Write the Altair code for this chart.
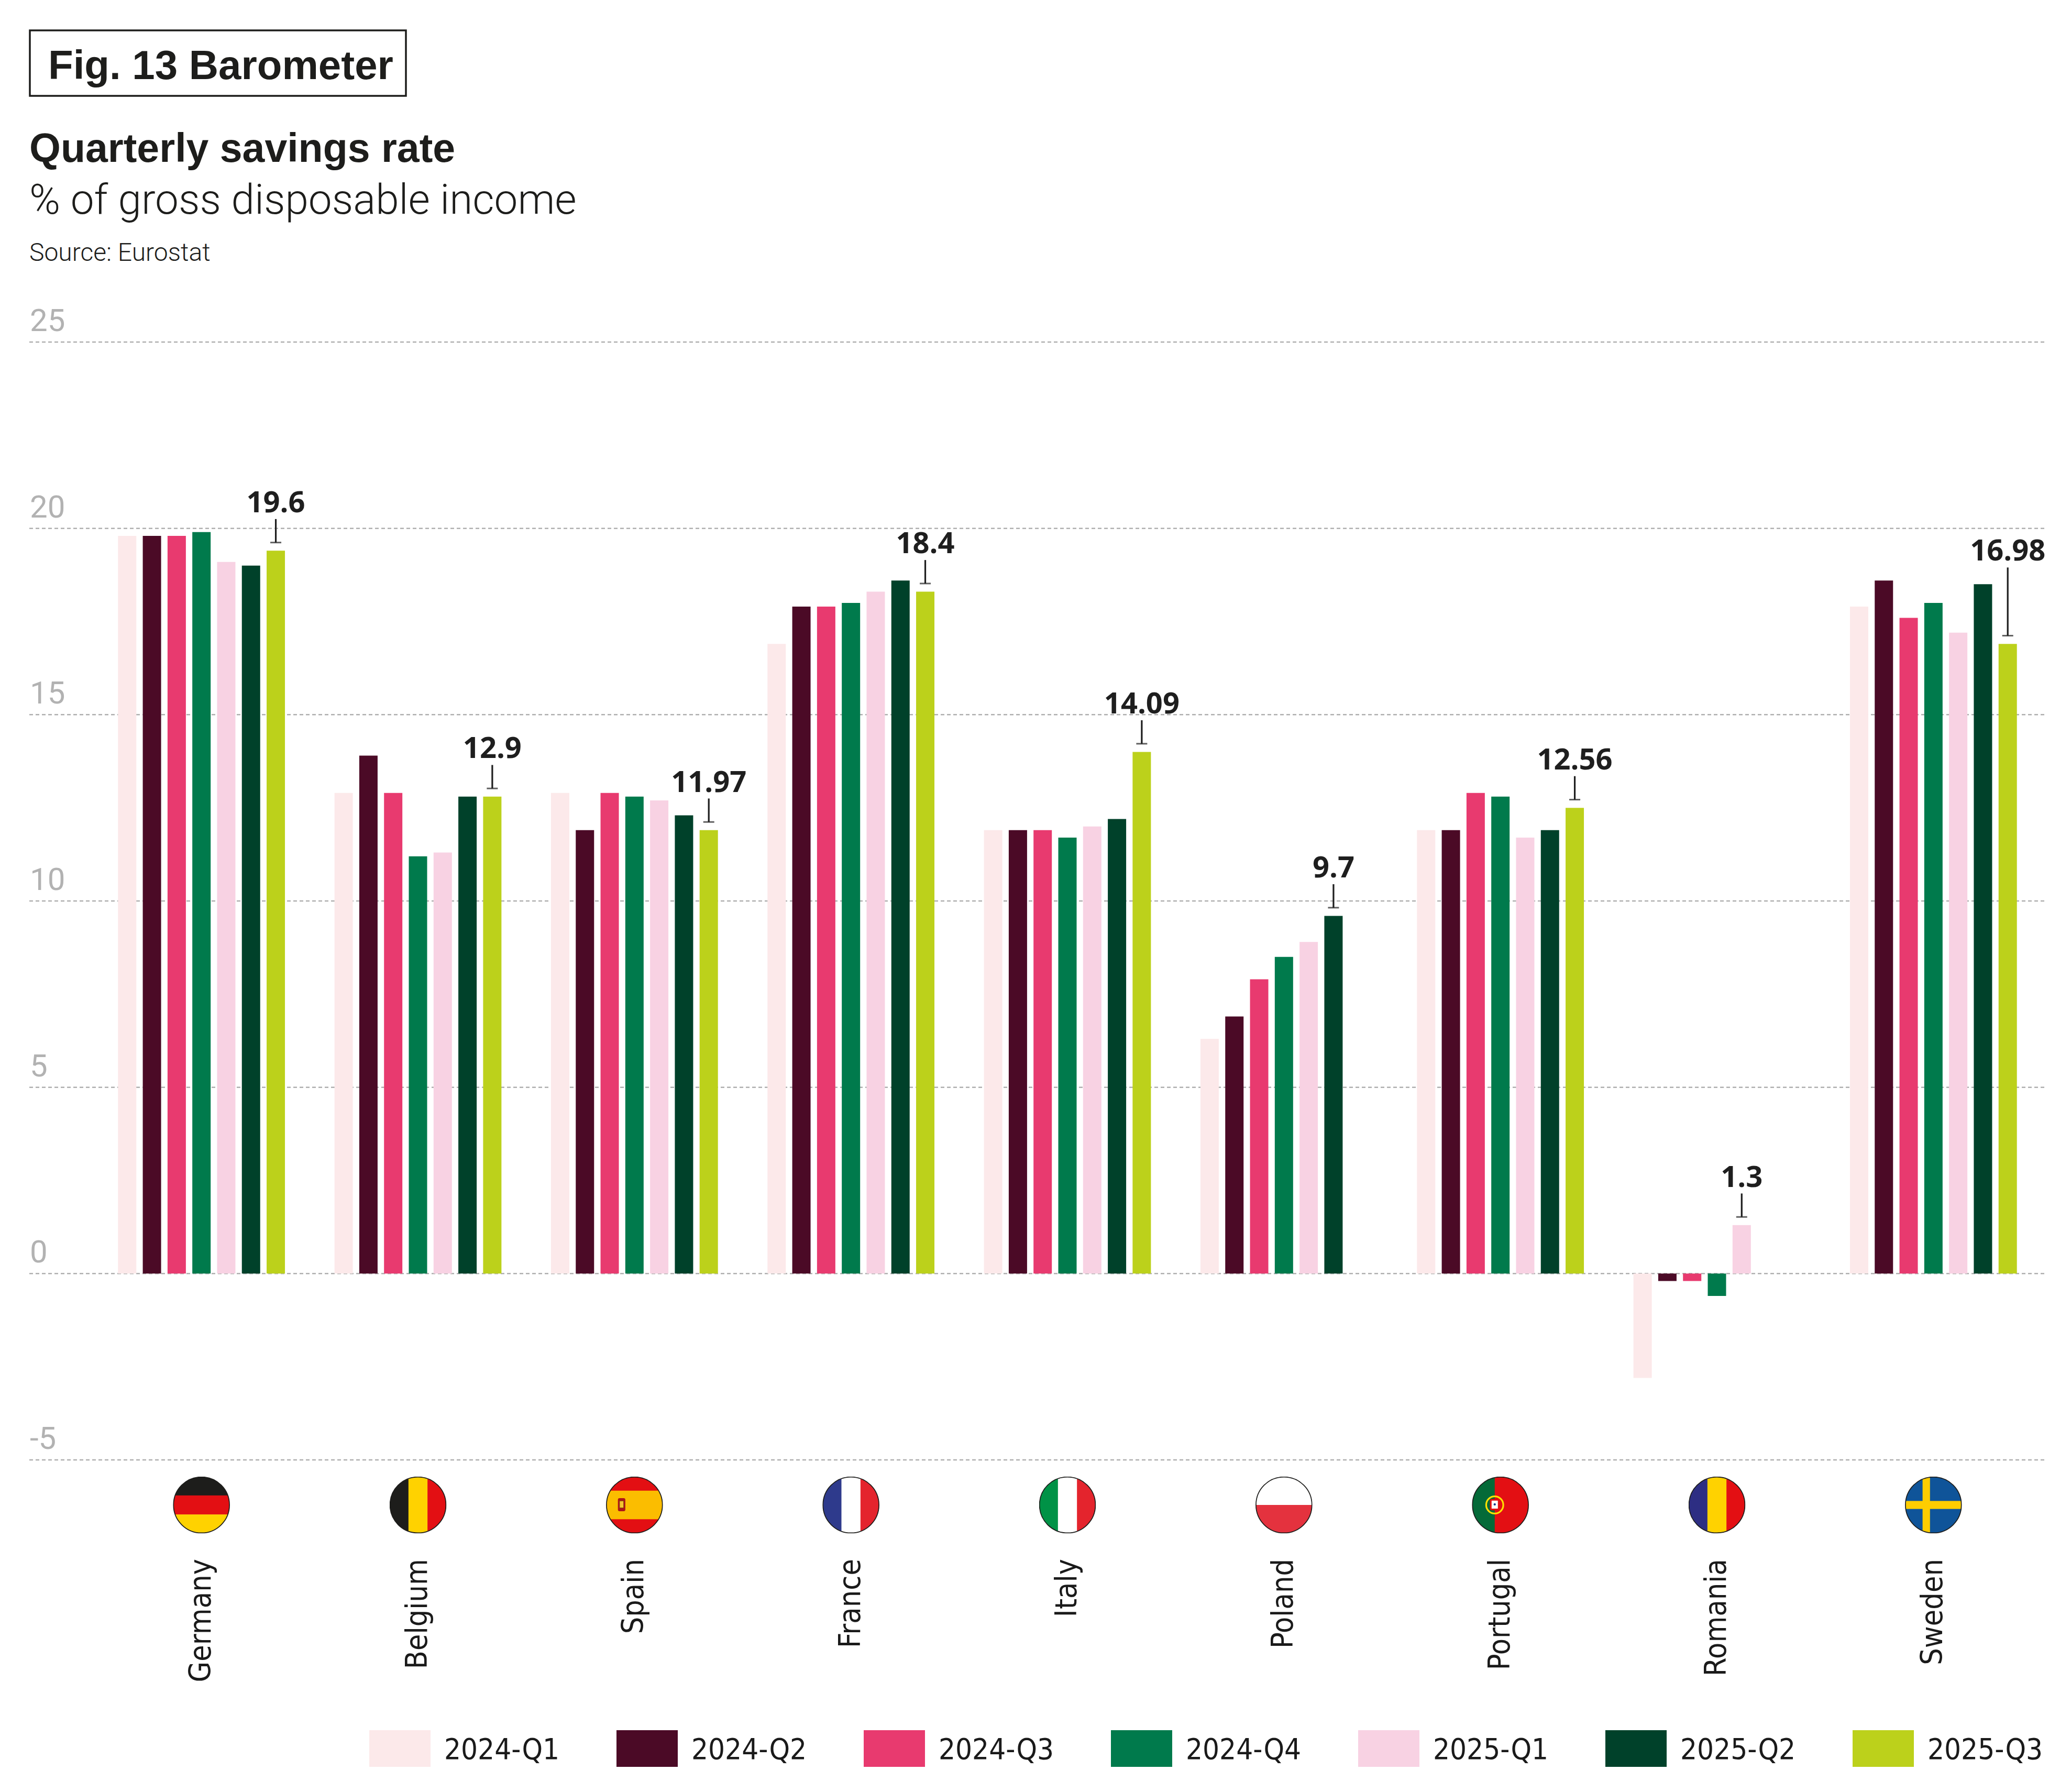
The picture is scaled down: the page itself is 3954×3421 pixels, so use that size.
import base64
import altair as alt
import pandas as pd

# ---------------- data ----------------
countries = ["Germany", "Belgium", "Spain", "France", "Italy", "Poland", "Portugal", "Romania", "Sweden"]
quarters = ["2024-Q1", "2024-Q2", "2024-Q3", "2024-Q4", "2025-Q1", "2025-Q2", "2025-Q3"]

v_2024_q1 = [19.8, 12.9, 12.9, 16.9, 11.9, 6.3, 11.9, -2.8, 17.9]
v_2024_q2 = [19.8, 13.9, 11.9, 17.9, 11.9, 6.9, 11.9, -0.2, 18.6]
v_2024_q3 = [19.8, 12.9, 12.9, 17.9, 11.9, 7.9, 12.9, -0.2, 17.6]
v_2024_q4 = [19.9, 11.2, 12.8, 18.0, 11.7, 8.5, 12.8, -0.6, 18.0]
v_2025_q1 = [19.1, 11.3, 12.7, 18.3, 12.0, 8.9, 11.7, 1.3, 17.2]
v_2025_q2 = [19.0, 12.8, 12.3, 18.6, 12.2, 9.6, 11.9, None, 18.5]
v_2025_q3 = [19.4, 12.8, 11.9, 18.3, 14.0, None, 12.5, None, 16.9]
series = [v_2024_q1, v_2024_q2, v_2024_q3, v_2024_q4, v_2025_q1, v_2025_q2, v_2025_q3]

callout_labels = ["19.6", "12.9", "11.97", "18.4", "14.09", "9.7", "12.56", "1.3", "16.98"]

y_ticks = [25, 20, 15, 10, 5, 0, -5]
y_tick_labels = ["25", "20", "15", "10", "5", "0", "-5"]

colors = ["#fce9ea", "#4b0a26", "#e83a6f", "#007a4c", "#f8d2e3", "#00412a", "#bcd11b"]

# ---------------- tables ----------------
rows = []
for q, vals in zip(quarters, series):
    for c, v in zip(countries, vals):
        if v is not None:
            rows.append({"country": c, "quarter": q, "value": v})
df = pd.DataFrame(rows)

ann_rows = []
for i, c in enumerate(countries):
    avail = [(q, series[j][i]) for j, q in enumerate(quarters) if series[j][i] is not None]
    q_last, v_last = avail[-1]
    v_prev = avail[-2][1]
    top = max(v_last + 0.85, v_prev + 0.45)
    ann_rows.append({"country": c, "quarter": q_last, "low": v_last + 0.22,
                     "high": top, "label_y": top + 0.42, "label": callout_labels[i]})
ann = pd.DataFrame(ann_rows)

grid_df = pd.DataFrame({"t": y_ticks, "lab": y_tick_labels})

# ---------------- flags (inline svg images) ----------------
def flag_svg(inner):
    svg = ('<svg xmlns="http://www.w3.org/2000/svg" width="109" height="109" viewBox="0 0 100 100">'
           '<defs><clipPath id="c"><circle cx="50" cy="50" r="49"/></clipPath></defs>'
           '<g clip-path="url(#c)">' + inner + '</g>'
           '<circle cx="50" cy="50" r="49" fill="none" stroke="#1d1d1b" stroke-width="1.6"/></svg>')
    return "data:image/svg+xml;base64," + base64.b64encode(svg.encode()).decode()

def hstripes(cols):
    n = len(cols)
    return "".join(f'<rect x="0" y="{k*100/n}" width="100" height="{100/n+0.5}" fill="{col}"/>' for k, col in enumerate(cols))

def vstripes(cols):
    n = len(cols)
    return "".join(f'<rect x="{k*100/n}" y="0" width="{100/n+0.5}" height="100" fill="{col}"/>' for k, col in enumerate(cols))

flag_inner = {
    "Germany": hstripes(["#1d1d1b", "#e30f13", "#ffd200"]),
    "Belgium": vstripes(["#1d1d1b", "#ffd200", "#e30f13"]),
    "Spain": ('<rect width="100" height="100" fill="#e30f13"/><rect y="25" width="100" height="50" fill="#fbbd00"/>'
              '<rect x="21" y="38" width="13" height="23" rx="3" fill="#ad1519"/>'
              '<rect x="24" y="43" width="7" height="12" fill="#f4c430" stroke="#7a5a00" stroke-width="0.8"/>'),
    "France": vstripes(["#2e3a8c", "#ffffff", "#e4242d"]),
    "Italy": vstripes(["#009246", "#ffffff", "#e4242d"]),
    "Poland": hstripes(["#ffffff", "#e4323e"]),
    "Portugal": ('<rect width="100" height="100" fill="#e30f13"/><rect width="40" height="100" fill="#046a38"/>'
                 '<circle cx="40" cy="50" r="15" fill="none" stroke="#ffe000" stroke-width="3"/>'
                 '<rect x="33" y="41" width="14" height="17" rx="2" fill="#ffffff" stroke="#e30f13" stroke-width="3"/>'
                 '<circle cx="40" cy="49" r="2" fill="#1f3b8c"/>'),
    "Romania": vstripes(["#2d2e83", "#ffd200", "#e30f13"]),
    "Sweden": ('<rect width="100" height="100" fill="#0f5499"/>'
               '<rect x="31" y="0" width="13" height="100" fill="#fecd00"/>'
               '<rect x="0" y="43" width="100" height="14" fill="#fecd00"/>'),
}
flags = pd.DataFrame({"country": countries, "url": [flag_svg(flag_inner[c]) for c in countries]})

# ---------------- scales ----------------
NARROW = "Liberation Sans Narrow, DejaVu Sans Condensed, Roboto Condensed, Roboto, sans-serif"
xscale = alt.Scale(domain=countries, range=[170, 3890], paddingInner=0, paddingOuter=0)
xoff = alt.Scale(domain=quarters, paddingInner=0.26, paddingOuter=1.0)
yscale = alt.Scale(domain=[-5, 25], range=[2779, 645], nice=False, zero=False)
cscale = alt.Scale(domain=quarters, range=colors)

X = alt.X("country:N", scale=xscale, axis=None, sort=countries)
XO = alt.XOffset("quarter:N", scale=xoff, sort=quarters)

grid = alt.Chart(grid_df).mark_rule(color="#b0b0b0", strokeWidth=2.5, strokeDash=[7, 5]).encode(
    y=alt.Y("t:Q", scale=yscale, axis=None), x=alt.value(48), x2=alt.value(3898))
ylabels = alt.Chart(grid_df).mark_text(align="left", baseline="alphabetic", dy=-21, fontSize=60,
                                       font="Roboto", color="#b2b2b2").encode(
    y=alt.Y("t:Q", scale=yscale, axis=None), x=alt.value(49), text="lab:N")

bars = alt.Chart(df).mark_bar().encode(
    x=X, xOffset=XO,
    y=alt.Y("value:Q", scale=yscale, axis=None), y2=alt.datum(0),
    color=alt.Color("quarter:N", scale=cscale, legend=None))

stems = alt.Chart(ann).mark_rule(color="#1e1e1e", strokeWidth=3.2).encode(
    x=X, xOffset=XO, y=alt.Y("low:Q", scale=yscale, axis=None), y2="high:Q")
caps = alt.Chart(ann).mark_tick(color="#1e1e1e", thickness=3, size=21, orient="horizontal").encode(
    x=X, xOffset=XO, y=alt.Y("low:Q", scale=yscale, axis=None))
labels = alt.Chart(ann).mark_text(font="Open Sans", fontWeight="bold", fontSize=56,
                                  color="#1e1e1e", baseline="middle").encode(
    x=X, xOffset=XO, y=alt.Y("label_y:Q", scale=yscale, axis=None), text="label:N")

flag_marks = alt.Chart(flags).mark_image(width=109, height=109, align="center", baseline="middle").encode(
    x=X, y=alt.value(2865), url="url:N")
cnames = alt.Chart(flags).mark_text(angle=270, align="right", baseline="middle", fontSize=57,
                                    font=NARROW, color="#1a1a1a").encode(
    x=X, y=alt.value(2968), text="country:N")

main = alt.layer(grid, ylabels, bars, stems, caps, labels, flag_marks, cnames)

# legend
leg_df = pd.DataFrame({"quarter": quarters})
LX = alt.X("quarter:N", scale=alt.Scale(domain=quarters, type="point", range=[755.5, 3587.5], padding=0),
           axis=None, sort=quarters)
swatches = alt.Chart(leg_df).mark_point(shape="M-1,-0.6H1V0.6H-1Z", filled=True, size=13689,
                                        opacity=1, strokeWidth=0).encode(
    x=LX, y=alt.value(3330), color=alt.Color("quarter:N", scale=cscale, legend=None))
leg_text = alt.Chart(leg_df).mark_text(align="left", baseline="middle", dx=84.5, fontSize=56,
                                       font=NARROW, color="#1a1a1a").encode(
    x=LX, y=alt.value(3333), text="quarter:N")
legend = alt.layer(swatches, leg_text)

# titles
one = alt.Data(values=[{}])
box = alt.Chart(one).mark_rect(fill="white", stroke="#1d1d1b", strokeWidth=3.5).encode(
    x=alt.value(49), x2=alt.value(767), y=alt.value(50), y2=alt.value(175))
fig_t = alt.Chart(one).mark_text(text="Fig. 13 Barometer", align="left", baseline="alphabetic",
                                 font="Liberation Sans", fontWeight="bold", fontSize=78,
                                 color="#1d1d1b").encode(x=alt.value(84), y=alt.value(143))
title_t = alt.Chart(one).mark_text(text="Quarterly savings rate", align="left", baseline="alphabetic",
                                   font="Liberation Sans", fontWeight="bold", fontSize=77,
                                   color="#1d1d1b").encode(x=alt.value(48), y=alt.value(301))
sub_t = alt.Chart(one).mark_text(text="% of gross disposable income", align="left", baseline="alphabetic",
                                 font="Roboto", fontWeight=300, fontSize=80,
                                 color="#1d1d1b").encode(x=alt.value(48), y=alt.value(400))
src_t = alt.Chart(one).mark_text(text="Source: Eurostat", align="left", baseline="alphabetic",
                                 font="Roboto", fontWeight=300, fontSize=48,
                                 color="#1d1d1b").encode(x=alt.value(48), y=alt.value(490))
titles = alt.layer(box, fig_t, title_t, sub_t, src_t)

chart = alt.layer(main, legend, titles).resolve_scale(x="independent").properties(
    width=3930, height=3400, padding=0,
    autosize=alt.AutoSizeParams(type="none"),
    background="white",
).configure_view(stroke=None)

chart.save("out.html", embed_options={"renderer": "svg", "actions": False})
